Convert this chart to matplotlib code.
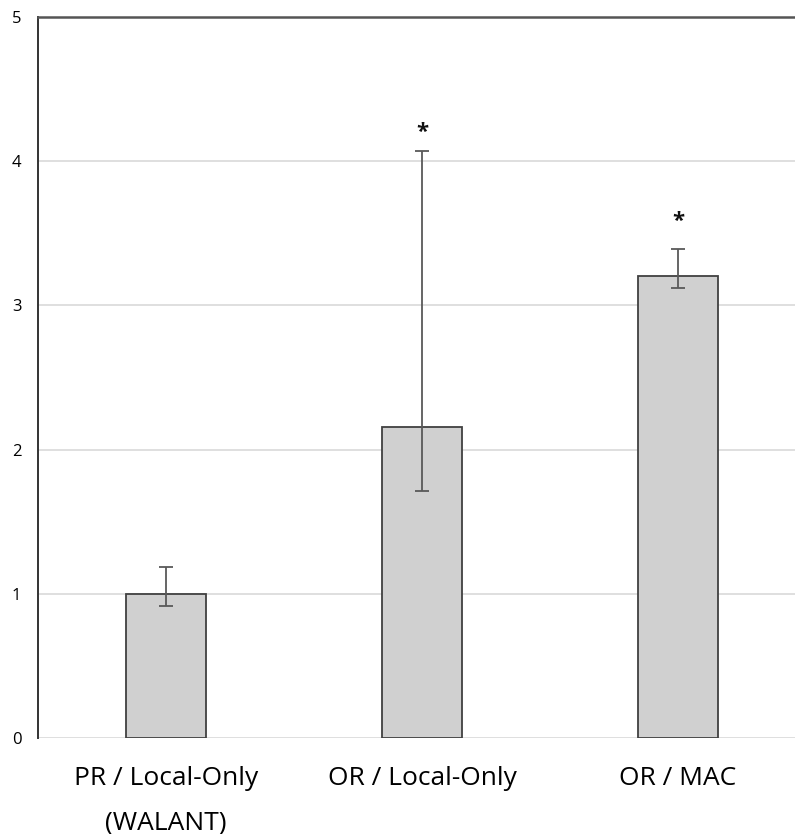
import matplotlib
matplotlib.use("Agg")
import matplotlib.pyplot as plt
import numpy as np

# values
categories = ["PR / Local-Only\n(WALANT)", "OR / Local-Only", "OR / MAC"]
means = [1.0, 2.155, 3.204]
err_low = [0.915, 1.713, 3.12]
err_high = [1.186, 4.07, 3.39]
significant = [False, True, True]
star_y = [None, 4.20, 3.585]

plt.rcParams['font.family'] = ['Open Sans', 'DejaVu Sans']

fig = plt.figure(figsize=(7.95, 8.34), dpi=100)
ax = fig.add_axes([38 / 795, 96 / 834, 768 / 795, 721 / 834])

x = np.arange(len(categories))
lower = np.array(means) - np.array(err_low)
upper = np.array(err_high) - np.array(means)

ax.bar(x, means, width=0.3125, color='#d0d0d0', edgecolor='#404040',
       linewidth=1.3, zorder=2)
ax.errorbar(x, means, yerr=[lower, upper], fmt='none', ecolor='#595959',
            elinewidth=1.3, capsize=5, capthick=1.3, zorder=3)

for xi, sig, sy in zip(x, significant, star_y):
    if sig:
        ax.text(xi, sy, '*', ha='center', va='center', fontsize=16,
                fontweight='bold', color='#111111', zorder=4)

ax.set_xlim(-0.5, 2.5)
ax.set_ylim(0, 5)
ax.set_yticks(range(0, 6))
ax.set_xticks(x)
ax.set_xticklabels(categories, fontsize=19, linespacing=2.05)
ax.tick_params(axis='y', length=0, pad=12, labelsize=12)
ax.tick_params(axis='x', length=0, pad=20)

ax.yaxis.grid(True, color='#d9d9d9', linewidth=1.2, zorder=0)
ax.set_axisbelow(True)

for side in ['right', 'bottom']:
    ax.spines[side].set_visible(False)
ax.spines['left'].set_color('#333333')
ax.spines['left'].set_linewidth(1.4)
ax.spines['top'].set_color('#555555')
ax.spines['top'].set_linewidth(1.8)

fig.savefig('out.png', dpi=100)
